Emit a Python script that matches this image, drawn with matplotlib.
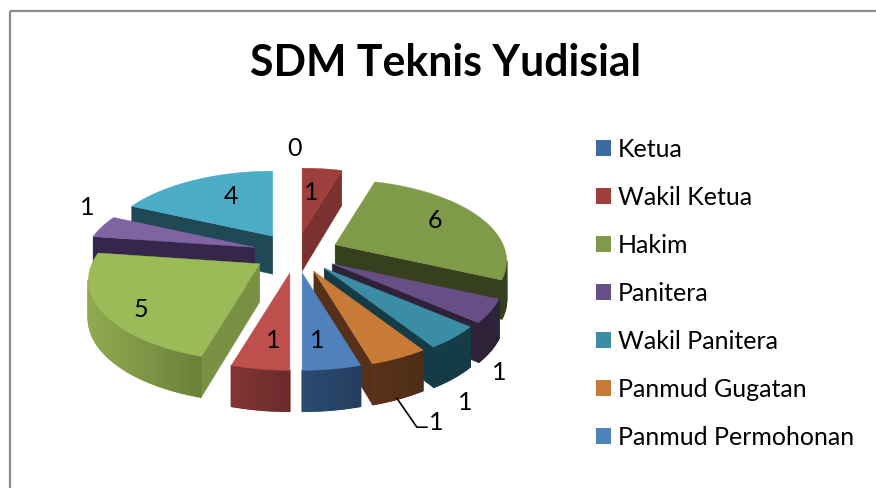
import numpy as np
import matplotlib
matplotlib.use("Agg")
import matplotlib.pyplot as plt
from matplotlib.patches import Polygon, Patch, Rectangle

plt.rcParams['font.family'] = ['Lato', 'DejaVu Sans']

# Data
legend_names = ["Ketua", "Wakil Ketua", "Hakim", "Panitera", "Wakil Panitera",
                "Panmud Gugatan", "Panmud Permohonan"]
values = [0, 1, 6, 1, 1, 1, 1, 1, 5, 1, 4]

# Colours per slice
top_colors = ["#3C6B9F", "#9E3F3E", "#7F9A48", "#674E85", "#3A8DA5", "#C87B37",
              "#4F81BD", "#BE4F4C", "#9BBB59", "#8064A2", "#4BACC6"]
side_colors = ["#284366", "#7A3130", "#36401F", "#2D2238", "#153B46", "#55301A",
               "#284366", "#7B3131", "#7A9144", "#35264A", "#1F4954"]
arc_left = ["#284366", "#7A3130", "#36401F", "#2D2238", "#153B46", "#5A3317",
            "#2A4A70", "#823535", "#8FAA50", "#35264A", "#1F4954"]
arc_right = ["#284366", "#7A3130", "#36401F", "#2D2238", "#153B46", "#4E2C17",
             "#243D5E", "#6B2A2A", "#6A803A", "#35264A", "#1F4954"]

# Value label offsets from the tip of each slice, in pixels
label_dx = [-1, 9, 100, 167, 141, 122, 15, -17, -119, -168, -42]
label_dy = [-84, -41, -24, 109, 134, 151, 68, 68, 46, -40, -40]

# Pie geometry, pixels
cx, cy = 296, 253
rx, ry = 168, 78
ex, ey = 43, 20
persp = 0.2

fig = plt.figure(figsize=(8.76, 4.88), dpi=100)
ax = fig.add_axes([0, 0, 1, 1])
ax.set_xlim(0, 876)
ax.set_ylim(488, 0)
ax.axis("off")

# Chart border runs off the picture on the right and bottom
ax.add_patch(Rectangle((10, 10.5), 1000, 1000, fill=False, ec="#8C8C8C", lw=1.6))

total = sum(values)
ends = np.cumsum(values) / total * 2 * np.pi
starts = ends - np.array(values) / total * 2 * np.pi
mids = (starts + ends) / 2


def tip(i):
    return cx + ex * np.sin(mids[i]), cy - ey * np.cos(mids[i])


def point(i, a):
    # point on the rim of slice i
    u, v = np.sin(a), np.cos(a)
    s = 1 / (1 + persp * v)
    x0, y0 = tip(i)
    return x0 + rx * u * s, y0 - ry * v * s, 38 - 3 * v


def mix(c1, c2, t):
    a = np.array(matplotlib.colors.to_rgb(c1))
    b = np.array(matplotlib.colors.to_rgb(c2))
    return a + (b - a) * t


# Far slices first
order = sorted([i for i in range(len(values)) if values[i] > 0],
               key=lambda i: -np.cos(mids[i]))

for n, i in enumerate(order):
    angles = np.linspace(starts[i], ends[i], 60)
    rim = [point(i, a) for a in angles]
    x0, y0 = tip(i)
    h0 = 38

    # side walls, only those facing the viewer (moving left on a clockwise loop)
    first, last = rim[0], rim[-1]
    if first[0] < x0:
        ax.add_patch(Polygon([(x0, y0), first[:2], (first[0], first[1] + first[2]), (x0, y0 + h0)],
                             fc=side_colors[i], ec=side_colors[i], lw=0.3, zorder=n * 3 + 1))
    if x0 < last[0]:
        ax.add_patch(Polygon([last[:2], (x0, y0), (x0, y0 + h0), (last[0], last[1] + last[2])],
                             fc=side_colors[i], ec=side_colors[i], lw=0.3, zorder=n * 3 + 1))

    # outer wall with a left to right gradient, drawn left to right so seams overlap
    xs = [p[0] for p in rim]
    for p, q in zip(rim[:-1], rim[1:]):
        if q[0] < p[0]:
            t = (q[0] - min(xs)) / (max(xs) - min(xs))
            col = mix(arc_left[i], arc_right[i], t)
            ax.add_patch(Polygon([p[:2], q[:2], (q[0], q[1] + q[2]), (p[0], p[1] + p[2])],
                                 fc=col, ec=col, lw=1.0, zorder=n * 3 + 2))

    # top face
    ax.add_patch(Polygon([(x0, y0)] + [p[:2] for p in rim], fc=top_colors[i], ec=top_colors[i],
                         lw=0.3, zorder=n * 3 + 3))

# Value labels
for i, val in enumerate(values):
    x0, y0 = tip(i)
    ax.text(x0 + label_dx[i], y0 + label_dy[i], str(val), fontsize=18, color="black",
            ha="center", va="center", zorder=100)

# Leader line of the Panmud Gugatan label
x0, y0 = tip(5)
ax.plot([x0 + 83, x0 + 103, x0 + 113], [y0 + 127, y0 + 156, y0 + 156], color="black", lw=1.2, zorder=99)

ax.text(445, 63, "SDM Teknis Yudisial", fontsize=30.8, fontweight="bold", ha="center", va="center",
        color="black")

# Legend
handles = [Patch(fc=top_colors[i], ec="none") for i in range(len(legend_names))]
ax.legend(handles, legend_names, loc="upper left", bbox_to_anchor=(596 / 876, 1 - 138 / 488),
          bbox_transform=ax.transAxes, frameon=False, fontsize=18, handlelength=0.6, handleheight=0.6,
          handletextpad=0.28, labelspacing=1.0, borderpad=0, borderaxespad=0)

fig.savefig("out.png", dpi=100)
